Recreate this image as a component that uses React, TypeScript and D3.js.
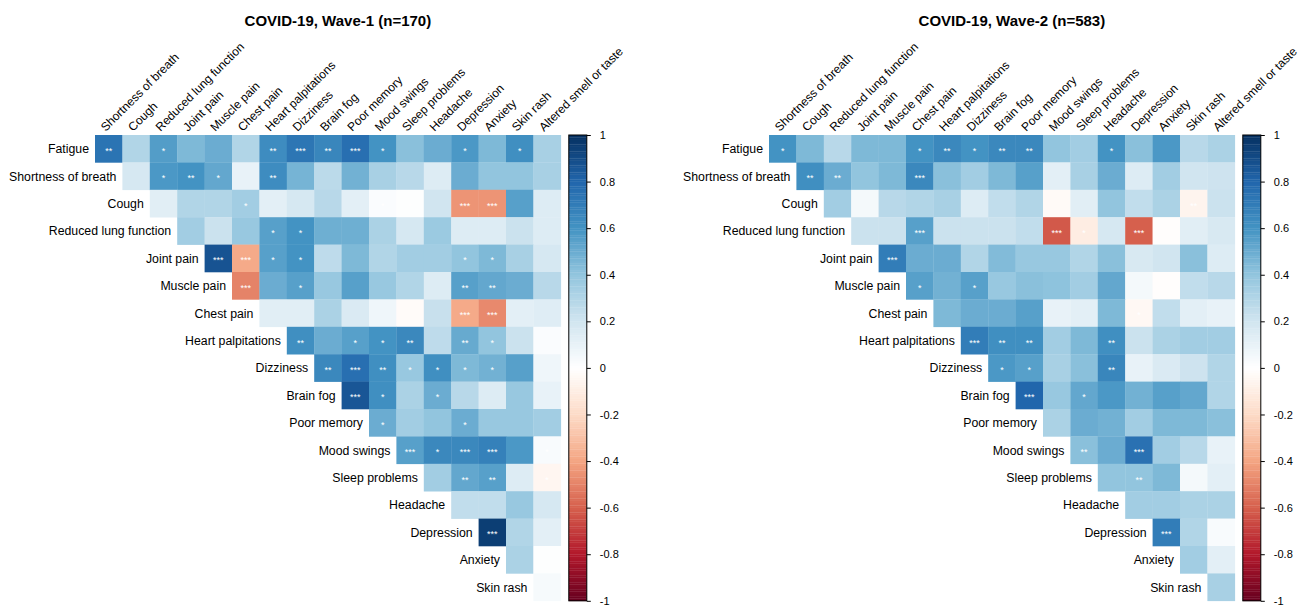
import React, { useRef, useEffect } from "react";
import * as d3 from "d3";

const rowLabels = [
  "Fatigue",
  "Shortness of breath",
  "Cough",
  "Reduced lung function",
  "Joint pain",
  "Muscle pain",
  "Chest pain",
  "Heart palpitations",
  "Dizziness",
  "Brain fog",
  "Poor memory",
  "Mood swings",
  "Sleep problems",
  "Headache",
  "Depression",
  "Anxiety",
  "Skin rash",
];

const colLabels = [
  "Shortness of breath",
  "Cough",
  "Reduced lung function",
  "Joint pain",
  "Muscle pain",
  "Chest pain",
  "Heart palpitations",
  "Dizziness",
  "Brain fog",
  "Poor memory",
  "Mood swings",
  "Sleep problems",
  "Headache",
  "Depression",
  "Anxiety",
  "Skin rash",
  "Altered smell or taste",
];

// upper triangle: row r starts at column r
const wave1Corr = [
  [0.74, 0.3, 0.56, 0.45, 0.5, 0.3, 0.63, 0.73, 0.66, 0.76, 0.6, 0.42, 0.5, 0.58, 0.45, 0.62, 0.33],
  [0.18, 0.58, 0.6, 0.52, 0.1, 0.63, 0.47, 0.27, 0.48, 0.33, 0.28, 0.15, 0.5, 0.4, 0.4, 0.33],
  [0.13, 0.3, 0.3, 0.35, 0.12, 0.18, 0.28, 0.12, 0.02, 0.01, 0.2, -0.45, -0.45, 0.55, 0.15],
  [0.35, 0.22, 0.38, 0.55, 0.6, 0.49, 0.49, 0.32, 0.18, 0.37, 0.15, 0.15, 0.22, 0.15],
  [0.87, -0.38, 0.55, 0.6, 0.26, 0.45, 0.3, 0.35, 0.35, 0.4, 0.45, 0.33, 0.18],
  [-0.5, 0.5, 0.55, 0.38, 0.55, 0.38, 0.3, 0.15, 0.55, 0.52, 0.5, 0.28],
  [0.13, 0.13, 0.32, 0.16, 0.07, -0.02, 0.23, -0.38, -0.48, 0.12, 0.14],
  [0.62, 0.5, 0.55, 0.6, 0.65, 0.26, 0.51, 0.4, 0.22, 0.02],
  [0.65, 0.76, 0.62, 0.38, 0.62, 0.45, 0.48, 0.55, 0.07],
  [0.86, 0.62, 0.32, 0.5, 0.28, 0.15, 0.38, 0.1],
  [0.5, 0.35, 0.4, 0.5, 0.38, 0.38, 0.35],
  [0.55, 0.65, 0.65, 0.68, 0.58, 0.03],
  [0.35, 0.52, 0.55, 0.15, -0.05],
  [0.25, 0.25, 0.38, 0.18],
  [0.95, 0.3, 0.12],
  [0.32, 0.01],
  [0.04],
];

const wave1Sig = [
  ["**", "", "*", "", "", "", "**", "***", "**", "***", "*", "", "", "*", "", "*", ""],
  ["", "*", "**", "*", "", "**", "", "", "", "", "", "", "", "", "", ""],
  ["", "", "", "*", "", "", "", "", "*", "*", "", "***", "***", "", ""],
  ["", "", "", "*", "*", "", "", "", "", "", "", "", "", ""],
  ["***", "***", "*", "*", "", "", "", "", "", "*", "*", "", ""],
  ["***", "", "*", "", "", "", "", "", "**", "**", "", ""],
  ["", "", "", "", "", "", "", "***", "***", "", ""],
  ["**", "", "*", "*", "**", "", "**", "*", "", ""],
  ["**", "***", "**", "*", "*", "*", "*", "", ""],
  ["***", "*", "", "*", "", "", "", ""],
  ["*", "", "", "*", "", "", ""],
  ["***", "*", "***", "***", "", "*"],
  ["", "**", "**", "", "*"],
  ["", "", "", ""],
  ["***", "", ""],
  ["", ""],
  [""],
];

const wave2Corr = [
  [0.6, 0.45, 0.28, 0.45, 0.45, 0.6, 0.65, 0.6, 0.65, 0.65, 0.4, 0.35, 0.6, 0.42, 0.58, 0.28, 0.32],
  [0.62, 0.5, 0.4, 0.45, 0.65, 0.42, 0.35, 0.45, 0.55, 0.12, 0.33, 0.5, 0.15, 0.35, 0.2, 0.21],
  [0.35, 0.05, 0.28, 0.3, 0.33, 0.15, 0.25, 0.3, -0.03, 0.13, 0.4, 0.25, 0.32, -0.06, 0.22],
  [0.22, 0.22, 0.55, 0.22, 0.22, 0.22, 0.25, -0.62, -0.1, 0.18, -0.6, -0.01, 0.13, 0.17],
  [0.7, 0.5, 0.5, 0.3, 0.44, 0.38, 0.38, 0.3, 0.42, 0.17, 0.2, 0.42, 0.15],
  [0.55, 0.48, 0.55, 0.38, 0.42, 0.41, 0.35, 0.52, 0.05, -0.01, 0.25, 0.28],
  [0.45, 0.5, 0.5, 0.55, 0.1, 0.12, 0.45, -0.04, 0.25, 0.12, 0.1],
  [0.7, 0.62, 0.62, 0.35, 0.45, 0.62, 0.22, 0.32, 0.35, 0.35],
  [0.58, 0.55, 0.33, 0.42, 0.66, 0.1, 0.16, 0.21, 0.3],
  [0.8, 0.38, 0.52, 0.58, 0.48, 0.55, 0.52, 0.3],
  [0.32, 0.5, 0.48, 0.35, 0.45, 0.45, 0.42],
  [0.42, 0.5, 0.75, 0.35, 0.28, 0.1],
  [0.4, 0.4, 0.45, 0.05, 0.12],
  [0.35, 0.35, 0.32, 0.32],
  [0.7, 0.3, 0.03],
  [0.35, 0.12],
  [0.33],
];

const wave2Sig = [
  ["*", "", "", "", "", "*", "**", "*", "**", "**", "", "", "*", "", "", "", ""],
  ["**", "**", "", "", "***", "", "", "", "", "", "", "", "", "", "", ""],
  ["", "", "", "", "", "", "", "", "", "", "", "", "", "**", ""],
  ["", "", "***", "", "", "", "", "***", "*", "", "***", "", "", ""],
  ["***", "", "", "", "", "", "", "", "", "", "", "", ""],
  ["*", "", "*", "", "", "", "", "", "", "", "", ""],
  ["", "", "", "", "", "", "", "*", "", "", ""],
  ["***", "**", "**", "", "", "**", "", "", "", ""],
  ["*", "*", "", "", "**", "", "", "", ""],
  ["***", "", "*", "", "", "", "", ""],
  ["", "", "", "", "", "", ""],
  ["**", "", "***", "", "", ""],
  ["", "**", "", "", ""],
  ["", "", "", ""],
  ["***", "", ""],
  ["", ""],
  [""],
];

const colorbarTicks = [1, 0.8, 0.6, 0.4, 0.2, 0, -0.2, -0.4, -0.6, -0.8, -1];

// corrplot RdBu palette
const paletteColors = [
  "#67001F", "#B2182B", "#D6604D", "#F4A582", "#FDDBC7", "#FFFFFF",
  "#D1E5F0", "#92C5DE", "#4393C3", "#2166AC", "#053061",
];

const FONT = "'Liberation Sans', Arial, Helvetica, sans-serif";
const CELL = 27.4;
const TOP = 135;

const color = d3
  .scaleLinear<string>()
  .domain(d3.range(paletteColors.length).map((i) => -1 + (2 * i) / (paletteColors.length - 1)))
  .range(paletteColors)
  .clamp(true);

interface CorrPlotProps {
  left: number;
  title: string;
  values: number[][];
  sig: string[][];
}

const CorrPlot = ({ left, title, values, sig }: CorrPlotProps) => {
  const ref = useRef<SVGGElement | null>(null);

  useEffect(() => {
    if (!ref.current) return;
    const g = d3.select(ref.current);
    g.selectAll("*").remove();

    const size = CELL * colLabels.length;
    const x = d3.scaleBand().domain(colLabels).range([left, left + size]);
    const y = d3.scaleBand().domain(rowLabels).range([TOP, TOP + size]);

    const cells = values.flatMap((row, r) =>
      row.map((v, k) => ({
        row: rowLabels[r],
        col: colLabels[r + k],
        v,
        s: sig[r][k],
      }))
    );

    // title
    g.append("text")
      .attr("x", left + size / 2 + 10)
      .attr("y", 26)
      .attr("text-anchor", "middle")
      .style("font-family", FONT)
      .style("font-weight", "bold")
      .style("font-size", "15px")
      .style("fill", "#000")
      .text(title);

    // cells
    g.selectAll(".cell")
      .data(cells)
      .enter()
      .append("rect")
      .attr("class", "cell")
      .attr("x", (d) => x(d.col) || 0)
      .attr("y", (d) => y(d.row) || 0)
      .attr("width", x.bandwidth() + 0.3)
      .attr("height", y.bandwidth() + 0.3)
      .attr("fill", (d) => color(d.v));

    // significance stars
    g.selectAll(".star")
      .data(cells.filter((d) => d.s))
      .enter()
      .append("text")
      .attr("class", "star")
      .attr("x", (d) => (x(d.col) || 0) + x.bandwidth() / 2)
      .attr("y", (d) => (y(d.row) || 0) + y.bandwidth() / 2 + 5)
      .attr("text-anchor", "middle")
      .style("font-family", FONT)
      .style("font-size", "9px")
      .style("fill", "#fff")
      .text((d) => d.s);

    // row labels, placed left of the first cell of each row
    g.selectAll(".row-label")
      .data(rowLabels)
      .enter()
      .append("text")
      .attr("class", "row-label")
      .attr("x", (d, i) => (x(colLabels[i]) || 0) - 6)
      .attr("y", (d) => (y(d) || 0) + y.bandwidth() / 2)
      .attr("dy", "0.36em")
      .attr("text-anchor", "end")
      .style("font-family", FONT)
      .style("font-size", "12.3px")
      .style("fill", "#000")
      .text((d) => d);

    // column labels, rotated
    g.selectAll(".col-label")
      .data(colLabels)
      .enter()
      .append("text")
      .attr("class", "col-label")
      .attr(
        "transform",
        (d) => `translate(${(x(d) || 0) + x.bandwidth() / 2 - 3},${TOP - 3}) rotate(-45)`
      )
      .attr("text-anchor", "start")
      .style("font-family", FONT)
      .style("font-size", "12px")
      .style("fill", "#000")
      .text((d) => d);

    // colour legend
    const barX = left + size + 8;
    const barW = 18;
    const yBar = d3.scaleLinear().domain([-1, 1]).range([TOP + size, TOP]);
    const steps = d3.range(200).map((i) => -1 + (i + 0.5) / 100);
    g.selectAll(".bar-step")
      .data(steps)
      .enter()
      .append("rect")
      .attr("class", "bar-step")
      .attr("x", barX)
      .attr("y", (d) => yBar(d + 0.005))
      .attr("width", barW)
      .attr("height", yBar(-1) - yBar(-0.99) + 0.3)
      .attr("fill", (d) => color(d));

    g.append("rect")
      .attr("x", barX)
      .attr("y", TOP)
      .attr("width", barW)
      .attr("height", size)
      .attr("fill", "none")
      .attr("stroke", "#000")
      .attr("stroke-width", 1);

    g.append("g")
      .attr("transform", `translate(${barX + barW},0)`)
      .call(
        d3
          .axisRight(yBar)
          .tickValues(colorbarTicks)
          .tickSize(4)
          .tickPadding(9)
          .tickFormat((d) => String(d))
      )
      .call((a) => a.select(".domain").remove())
      .call((a) => a.selectAll(".tick line").attr("stroke", "#000"))
      .selectAll("text")
      .style("font-family", FONT)
      .style("font-size", "11px")
      .style("fill", "#000");
  }, [left, title, values, sig]);

  return <g ref={ref} />;
};

const App = () => {
  return (
    <div>
      <style>{"body{margin:0;background:#fff}"}</style>
      <svg width={1314} height={607} style={{ display: "block" }}>
        <rect width={1314} height={607} fill="#fff" />
        <CorrPlot left={95} title="COVID-19, Wave-1 (n=170)" values={wave1Corr} sig={wave1Sig} />
        <CorrPlot left={769} title="COVID-19, Wave-2 (n=583)" values={wave2Corr} sig={wave2Sig} />
      </svg>
    </div>
  );
};

export default App;
